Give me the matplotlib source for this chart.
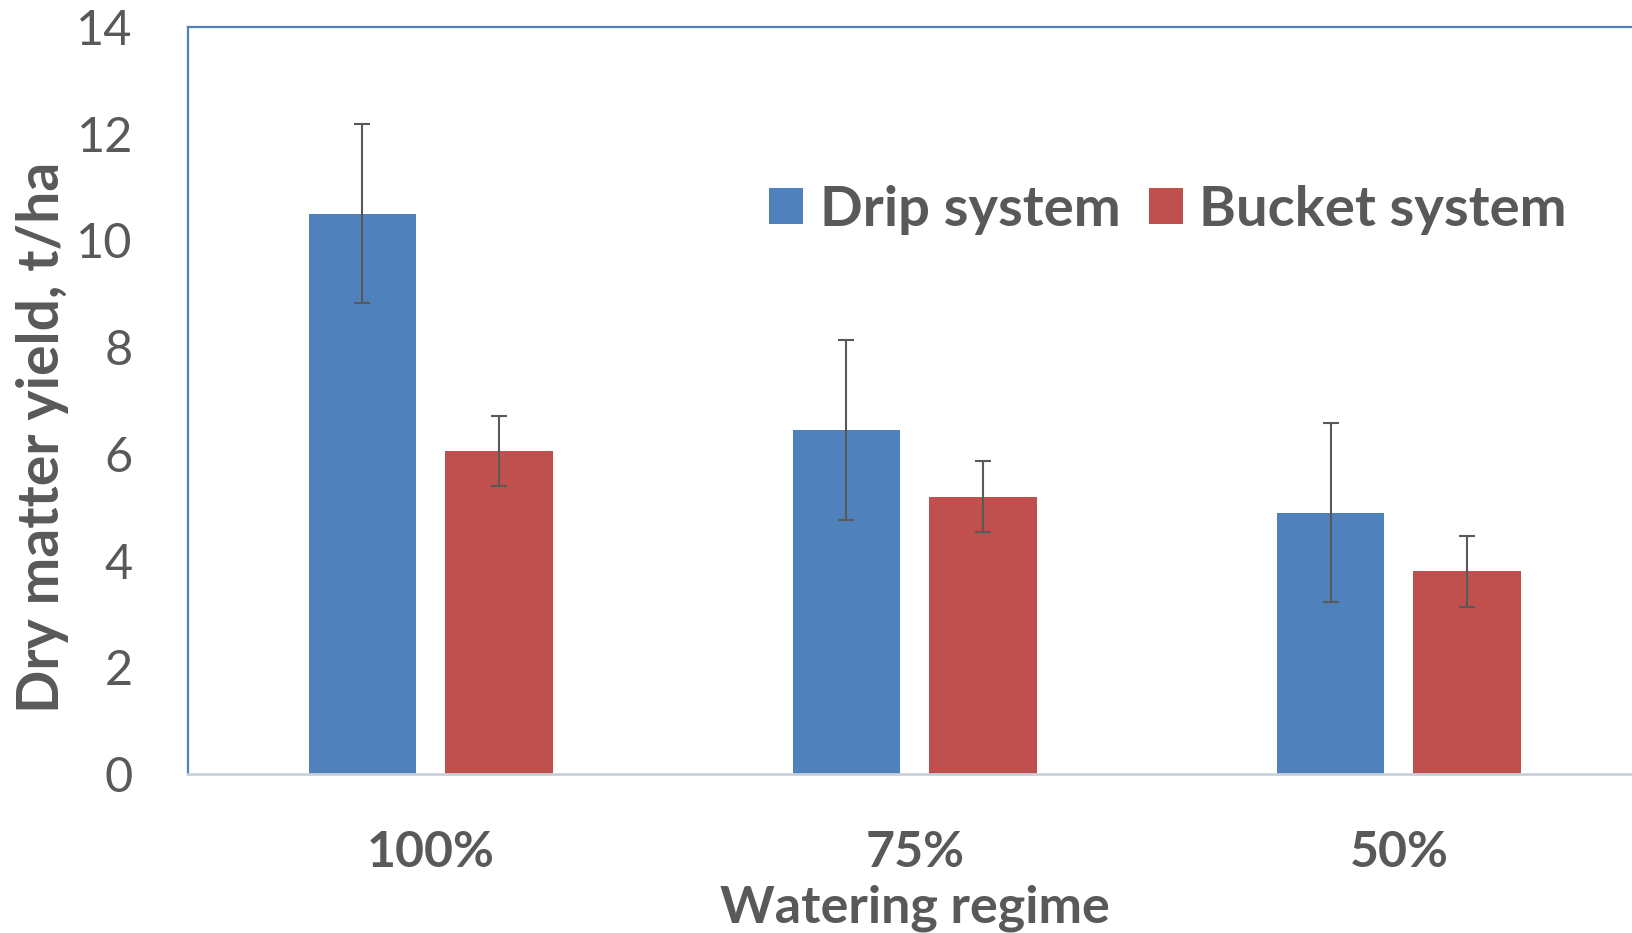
import numpy as np
import matplotlib
matplotlib.use("Agg")
import matplotlib.pyplot as plt

# data
regimes = ["100%", "75%", "50%"]
drip_yield = [10.5, 6.45, 4.9]
drip_err = [1.68, 1.68, 1.68]
bucket_yield = [6.05, 5.2, 3.8]
bucket_err = [0.66, 0.67, 0.67]

BLUE = "#4F81BD"
RED = "#C0504D"
TEXT = "#595959"

plt.rcParams["font.family"] = ["Lato", "DejaVu Sans"]


def plot_chart(output_file="out.png"):
    fig = plt.figure(figsize=(16.33, 9.33), dpi=100)
    # right edge of the plot box runs past the figure, as in the original
    ax = fig.add_axes([0.1154, 0.1704, 0.8895, 0.8006])

    x = np.arange(len(regimes))
    width = 0.222
    offset = 0.141
    err_style = dict(ecolor=TEXT, elinewidth=1.5, capsize=6, capthick=1.5)

    ax.bar(x - offset, drip_yield, width, color=BLUE, label="Drip system",
           yerr=drip_err, error_kw=err_style, zorder=2)
    ax.bar(x + offset, bucket_yield, width, color=RED, label="Bucket system",
           yerr=bucket_err, error_kw=err_style, zorder=2)

    ax.set_xlim(-0.5, 2.5)
    ax.set_ylim(0, 14)
    ax.set_yticks(range(0, 15, 2))
    ax.set_xticks(x)
    ax.set_xticklabels(regimes, fontweight="bold")

    ax.tick_params(axis="y", length=0, pad=40, labelsize=35, labelcolor=TEXT)
    ax.tick_params(axis="x", length=0, pad=40, labelsize=36, labelcolor=TEXT)

    for side in ("left", "top"):
        ax.spines[side].set_color(BLUE)
        ax.spines[side].set_linewidth(1.6)
    ax.spines["bottom"].set_color("#C9D0D8")
    ax.spines["bottom"].set_linewidth(2)
    ax.spines["right"].set_visible(False)

    ax.set_ylabel("Dry matter yield, t/ha", fontsize=41, fontweight="bold",
                  color=TEXT)
    ax.yaxis.set_label_coords(-0.082, 0.451)
    ax.set_xlabel("Watering regime", fontsize=37.5, fontweight="bold",
                  color=TEXT, labelpad=7)

    leg = ax.legend(loc="center left", bbox_to_anchor=(0.365, 0.755), ncol=2,
                    frameon=False, prop={"size": 40.5, "weight": "bold"},
                    handlelength=0.6, handleheight=0.6, handletextpad=0.3,
                    columnspacing=0.5)
    for t in leg.get_texts():
        t.set_color(TEXT)

    fig.savefig(output_file, dpi=100)


if __name__ == "__main__":
    plot_chart()
